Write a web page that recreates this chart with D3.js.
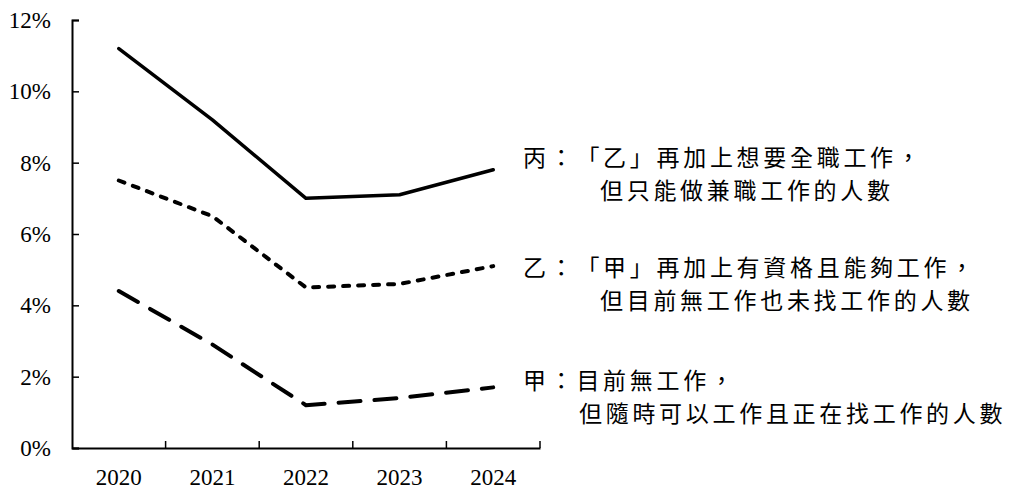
<!DOCTYPE html>
<html>
<head>
<meta charset="utf-8">
<script src="https://cdn.jsdelivr.net/npm/d3@7"></script>
<style>
  body { margin: 0; background: #fff; }
  svg { display: block; }
  .note { text-spacing-trim: space-all; font-kerning: none; }
</style>
</head>
<body>
<svg id="chart" width="1010" height="495"></svg>
<script>
const years = ['2020', '2021', '2022', '2023', '2024']
const yTicks = [0, 2, 4, 6, 8, 10, 12]

// unemployment-type rates, %
const bing = [11.2, 9.2, 7.0, 7.1, 7.8]
const yi = [7.5, 6.5, 4.5, 4.6, 5.1]
const jia = [4.4, 2.9, 1.2, 1.4, 1.7]

const labelLines = [
  ['丙：「乙」再加上想要全職工作，', '但只能做兼職工作的人數'],
  ['乙：「甲」再加上有資格且能夠工作，', '但目前無工作也未找工作的人數'],
  ['甲：目前無工作，', '但隨時可以工作且正在找工作的人數']
]

const svg = d3.select('#chart')
const margin = { top: 20, right: 470, bottom: 47, left: 72 }
const width = 1010, height = 495

const x = d3.scaleBand().domain(years).range([margin.left, width - margin.right]).padding(0)
const y = d3.scaleLinear().domain([0, 12]).range([height - margin.bottom, margin.top])

const serif = '"Liberation Serif", "Times New Roman", serif'

// y axis
const yAxis = svg.append('g')
  .attr('transform', `translate(${margin.left},0)`)
  .call(d3.axisLeft(y).tickValues(yTicks).tickSize(-7).tickPadding(21).tickFormat(d => d + '%'))
yAxis.select('.domain').attr('stroke', '#000').attr('stroke-width', 2)
yAxis.selectAll('.tick line').attr('stroke', '#000').attr('stroke-width', 1.5)
yAxis.selectAll('text').attr('font-family', serif).attr('font-size', 23).attr('fill', '#000')

// x axis
const xAxis = svg.append('g')
  .attr('transform', `translate(0,${y(0)})`)
  .call(d3.axisBottom(x).tickSize(0).tickPadding(21))
xAxis.select('.domain').attr('stroke', '#000').attr('stroke-width', 2)
xAxis.selectAll('text').attr('font-family', serif).attr('font-size', 23).attr('fill', '#000')

// boundary ticks between categories
const bounds = years.slice(1).map(d => x(d)).concat([x.range()[1]])
xAxis.selectAll('.btick')
  .data(bounds)
  .enter()
  .append('line')
  .attr('class', 'btick')
  .attr('x1', d => d).attr('x2', d => d)
  .attr('y1', 0).attr('y2', -7)
  .attr('stroke', '#000').attr('stroke-width', 1.5)

const line = d3.line()
  .x((d, i) => x(years[i]) + x.bandwidth() / 2)
  .y(d => y(d))

const styles = [
  { data: bing, dash: null, w: 3.5 },
  { data: yi, dash: '6,9', w: 4 },
  { data: jia, dash: '22,14', w: 4 }
]

styles.forEach(s => {
  svg.append('path')
    .datum(s.data)
    .attr('d', line)
    .attr('fill', 'none')
    .attr('stroke', '#000')
    .attr('stroke-width', s.w)
    .attr('stroke-linecap', 'round')
    .attr('stroke-linejoin', 'round')
    .attr('stroke-dasharray', s.dash)
})

// annotations
const cjk = '"Noto Sans CJK TC", "Noto Sans CJK SC", sans-serif'
const labelY = [166, 276, 389]
const indent = [600, 600, 579]

labelLines.forEach((lines, i) => {
  const t = svg.append('text')
    .attr('class', 'note')
    .attr('font-family', cjk)
    .attr('font-size', 23)
    .attr('letter-spacing', 3.7)
    .attr('fill', '#000')
  t.append('tspan').attr('x', 523).attr('y', labelY[i]).text(lines[0])
  t.append('tspan').attr('x', indent[i]).attr('y', labelY[i] + 33).text(lines[1])
})
</script>
</body>
</html>
